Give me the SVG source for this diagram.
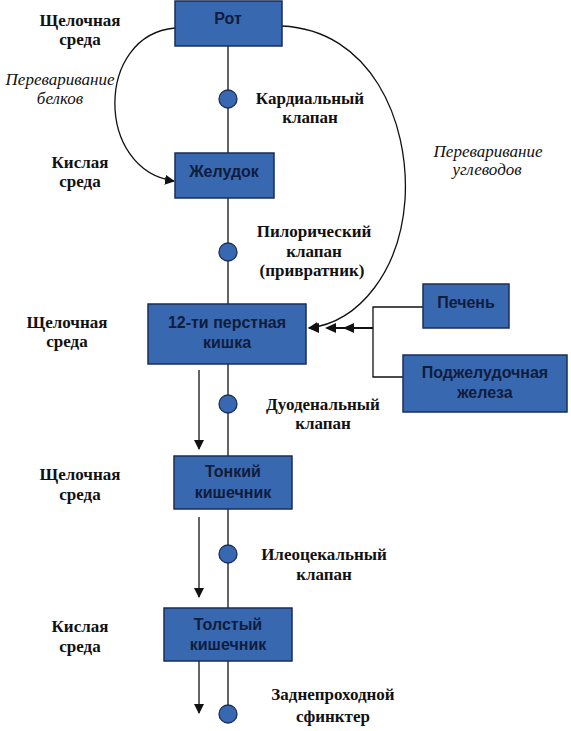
<svg xmlns="http://www.w3.org/2000/svg" width="571" height="731" viewBox="0 0 571 731">
<style>
.box{fill:#3868b0;stroke:#1b2d58;stroke-width:1.5}
.bt{font-family:"Liberation Sans",Arial,sans-serif;font-weight:bold;font-size:16px;fill:#101c3c;text-anchor:middle}
.lb{font-family:"Liberation Serif","Times New Roman",serif;font-weight:bold;font-size:17px;fill:#111;text-anchor:middle}
.it{font-family:"Liberation Serif","Times New Roman",serif;font-style:italic;font-size:17px;fill:#111;text-anchor:middle}
.ln{stroke:#111;stroke-width:1.3;fill:none}
.v{fill:#3868b0;stroke:#1b2d58;stroke-width:1.3}
</style>
<defs>
<marker id="ah" markerWidth="10" markerHeight="10" refX="9" refY="5" orient="auto" markerUnits="userSpaceOnUse">
<path d="M0,0 L10,5 L0,10 Z" fill="#111"/>
</marker>
</defs>
<g id="connectors">
<line class="ln" x1="228" y1="46" x2="228" y2="153"/>
<line class="ln" x1="228" y1="198" x2="228" y2="304"/>
<line class="ln" x1="228" y1="364" x2="228" y2="456"/>
<line class="ln" x1="228" y1="509" x2="228" y2="608"/>
<line class="ln" x1="228" y1="661" x2="228" y2="710"/>
<path class="ln" d="M175,28 C95,35 95,170 174,181" marker-end="url(#ah)"/>
<path class="ln" d="M282,26 C370,30 410,120 405,200 C400,270 360,322 309,328" marker-end="url(#ah)"/>
<line class="ln" x1="199" y1="370" x2="199" y2="449" marker-end="url(#ah)"/>
<line class="ln" x1="199" y1="517" x2="199" y2="597" marker-end="url(#ah)"/>
<line class="ln" x1="199" y1="661" x2="199" y2="713" marker-end="url(#ah)"/>
<polyline class="ln" points="423,307 373,307 373,377 403,377"/>
<line x1="373" y1="328" x2="330" y2="328" stroke="#111" stroke-width="2.2"/>
<path d="M308,328 L319,323 L319,333 Z" fill="#111"/>
<path d="M325,328 L336,323 L336,333 Z" fill="#111"/>
<path d="M343,328 L354,323 L354,333 Z" fill="#111"/>
<circle class="v" cx="228" cy="99" r="9"/>
<circle class="v" cx="228" cy="252" r="9"/>
<circle class="v" cx="228" cy="404" r="9"/>
<circle class="v" cx="228" cy="554" r="9"/>
<circle class="v" cx="228" cy="714" r="9"/>
</g>
<g id="rot"><rect class="box" x="175" y="1" width="107" height="45"/><text class="bt" x="228" y="24">Рот</text></g>
<g id="zheludok"><rect class="box" x="175" y="153" width="99" height="45"/><text class="bt" x="224" y="177">Желудок</text></g>
<g id="duodenum"><rect class="box" x="148" y="304" width="158" height="60"/><text class="bt" x="227" y="328">12-ти перстная</text><text class="bt" x="227" y="348">кишка</text></g>
<g id="pechen"><rect class="box" x="423" y="284" width="86" height="44"/><text class="bt" x="466" y="308">Печень</text></g>
<g id="pancreas"><rect class="box" x="403" y="355" width="164" height="57"/><text class="bt" x="485" y="378">Поджелудочная</text><text class="bt" x="485" y="398">железа</text></g>
<g id="tonkiy"><rect class="box" x="174" y="456" width="118" height="53"/><text class="bt" x="233" y="477">Тонкий</text><text class="bt" x="233" y="498">кишечник</text></g>
<g id="tolstiy"><rect class="box" x="164" y="608" width="128" height="53"/><text class="bt" x="228" y="630">Толстый</text><text class="bt" x="228" y="650">кишечник</text></g>
<g id="labels">
<text class="lb" x="80" y="26">Щелочная</text><text class="lb" x="80" y="45">среда</text>
<text class="it" x="60" y="85">Переваривание</text><text class="it" x="60" y="104">белков</text>
<text class="lb" x="80" y="168">Кислая</text><text class="lb" x="80" y="187">среда</text>
<text class="lb" x="310" y="104">Кардиальный</text><text class="lb" x="310" y="123">клапан</text>
<text class="it" x="488" y="157">Переваривание</text><text class="it" x="487" y="175">углеводов</text>
<text class="lb" x="314" y="237">Пилорический</text><text class="lb" x="314" y="257">клапан</text><text class="lb" x="312" y="276">(привратник)</text>
<text class="lb" x="67" y="328">Щелочная</text><text class="lb" x="67" y="347">среда</text>
<text class="lb" x="323" y="410">Дуоденальный</text><text class="lb" x="323" y="429">клапан</text>
<text class="lb" x="80" y="480">Щелочная</text><text class="lb" x="80" y="500">среда</text>
<text class="lb" x="324" y="560">Илеоцекальный</text><text class="lb" x="324" y="580">клапан</text>
<text class="lb" x="80" y="632">Кислая</text><text class="lb" x="80" y="652">среда</text>
<text class="lb" x="333" y="700">Заднепроходной</text><text class="lb" x="333" y="722">сфинктер</text>
</g>
</svg>
